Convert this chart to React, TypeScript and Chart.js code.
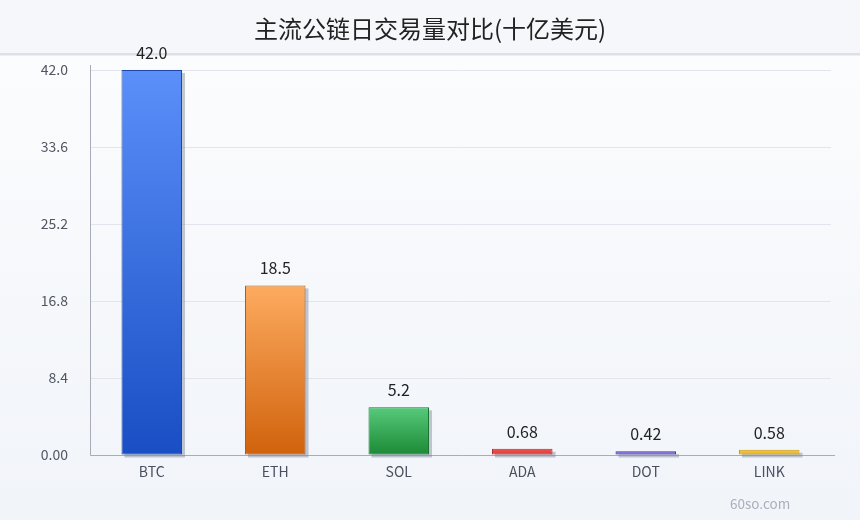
import React, { useEffect, useRef } from "react";
import { Chart, registerables } from "chart.js";

Chart.register(...registerables);

const TITLE = "主流公链日交易量对比(十亿美元)";
const categories = ["BTC", "ETH", "SOL", "ADA", "DOT", "LINK"];
const values = [42.0, 18.5, 5.2, 0.68, 0.42, 0.58];
const valueLabels = ["42.0", "18.5", "5.2", "0.68", "0.42", "0.58"];
const yTickLabels = ["0.00", "8.4", "16.8", "25.2", "33.6", "42.0"];
const topColors = ["#5b8ff9", "#fdab60", "#56ca7b", "#ef5252", "#7560d8", "#f5c83a"];
const bottomColors = ["#194ec4", "#d0620c", "#1c8935", "#dc3a3a", "#5f48c6", "#e8b423"];
const borderColors = ["#1d47a8", "#b65a14", "#1b7530", "#b82a2a", "#4733a0", "#c99a14"];

const FONT = "'Noto Sans CJK SC', 'Noto Sans', sans-serif";

export default function App() {
  const ref = useRef<HTMLCanvasElement | null>(null);

  useEffect(() => {
    document.body.style.margin = "0";
    const canvas = ref.current!;
    const ctx = canvas.getContext("2d")!;

    const bgPlugin = {
      id: "bg",
      beforeDraw(chart: any) {
        const c = chart.ctx;
        const { width, height } = chart;
        c.save();
        const g = c.createLinearGradient(0, 0, 0, height);
        g.addColorStop(0, "#fcfdfe");
        g.addColorStop(1, "#f1f4f9");
        c.fillStyle = g;
        c.fillRect(0, 0, width, height);
        c.fillStyle = "#f6f7fa";
        c.fillRect(0, 0, width, 53);
        c.fillStyle = "#dde0e8";
        c.fillRect(0, 53, width, 2.5);
        c.fillStyle = "#222222";
        c.font = `24px ${FONT}`;
        c.textAlign = "center";
        c.textBaseline = "middle";
        c.fillText(TITLE, width / 2, 29);
        c.restore();
      },
      beforeDatasetsDraw(chart: any) {
        const c = chart.ctx;
        const area = chart.chartArea;
        c.save();
        c.strokeStyle = "#a7adb8";
        c.lineWidth = 1;
        c.beginPath();
        c.moveTo(area.left + 0.5, area.top - 5);
        c.lineTo(area.left + 0.5, area.bottom + 0.5);
        c.lineTo(area.right + 4, area.bottom + 0.5);
        c.stroke();
        const meta = chart.getDatasetMeta(0);
        c.fillStyle = "rgba(125,135,155,0.45)";
        meta.data.forEach((bar: any) => {
          const w = bar.width;
          c.fillRect(bar.x - w / 2 + 3, bar.y + 3, w, bar.base - bar.y);
        });
        c.restore();
      },
      afterDatasetsDraw(chart: any) {
        const c = chart.ctx;
        const meta = chart.getDatasetMeta(0);
        c.save();
        c.fillStyle = "#222222";
        c.font = `16px ${FONT}`;
        c.textAlign = "center";
        c.textBaseline = "middle";
        meta.data.forEach((bar: any, i: number) => {
          c.fillText(valueLabels[i], bar.x, bar.y - 17);
        });
        c.restore();
      },
    };

    const chart = new Chart(ctx, {
      type: "bar",
      data: {
        labels: categories,
        datasets: [
          {
            data: values,
            backgroundColor: (context: any) => {
              const ch = context.chart;
              const area = ch.chartArea;
              const i = context.dataIndex;
              const ys = ch.scales && ch.scales.y;
              if (!area || !ys) return topColors[i];
              const top = ys.getPixelForValue(values[i]);
              const bottom = ys.getPixelForValue(0);
              const g = ch.ctx.createLinearGradient(0, top, 0, Math.max(bottom, top + 1));
              g.addColorStop(0, topColors[i]);
              g.addColorStop(1, bottomColors[i]);
              return g;
            },
            borderColor: borderColors,
            borderWidth: 1,
            borderSkipped: false,
            barPercentage: 0.49,
            categoryPercentage: 1,
          },
        ],
      },
      options: {
        responsive: false,
        animation: false,
        devicePixelRatio: 1,
        layout: { padding: { left: 0, right: 29, top: 70, bottom: 0 } },
        plugins: {
          legend: { display: false },
          title: { display: false },
          tooltip: { enabled: false },
        },
        scales: {
          x: {
            grid: { display: false, drawTicks: false },
            border: { display: false },
            ticks: {
              color: "#4a5060",
              font: { family: FONT, size: 14 },
              padding: 8,
            },
            afterFit(scale: any) {
              scale.height = 65;
            },
          },
          y: {
            min: 0,
            max: 42,
            grid: { color: "#e2e5eb", lineWidth: 1, drawTicks: false },
            border: { display: false },
            ticks: {
              stepSize: 8.4,
              color: "#505662",
              font: { family: FONT, size: 14 },
              padding: 22,
              callback: (_v: any, i: number) => yTickLabels[i],
            },
            afterFit(scale: any) {
              scale.width = 90;
            },
          },
        },
      },
      plugins: [bgPlugin],
    } as any);

    return () => chart.destroy();
  }, []);

  return (
    <div style={{ position: "relative", width: 860, height: 520 }}>
      <canvas ref={ref} width={860} height={520} style={{ display: "block" }} />
      <div
        style={{
          position: "absolute",
          left: 730,
          top: 493,
          fontFamily: FONT,
          fontSize: 13.5,
          color: "#a9afbb",
          lineHeight: "20px",
        }}
      >
        60so.com
      </div>
    </div>
  );
}
